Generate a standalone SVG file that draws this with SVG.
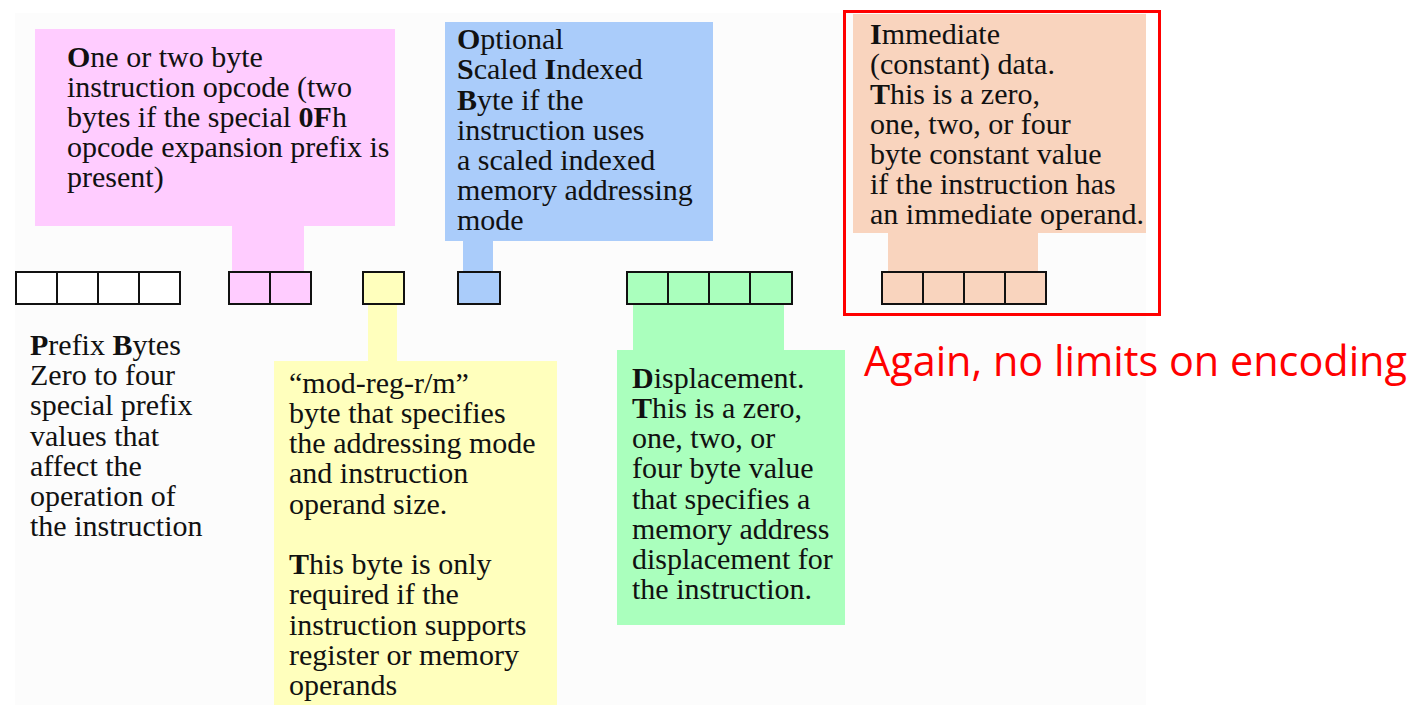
<svg xmlns="http://www.w3.org/2000/svg" width="1414" height="705" viewBox="0 0 1414 705">
<style>
.t{font-family:"Liberation Serif","Times New Roman",serif;font-size:30px;fill:#111;}
.b{font-weight:bold;}
.cell{stroke:#111;stroke-width:2;}
.pink{fill:#ffccff;}
.blue{fill:#aaccfa;}
.yel{fill:#ffffbd;}
.grn{fill:#aaffbd;}
.sal{fill:#f9d4be;}
.none{fill:#ffffff;}
.note{font-family:"Open Sans","Noto Sans",sans-serif;font-size:42px;fill:#ff0000;}
</style>
<rect x="0" y="0" width="1414" height="705" fill="#ffffff"/>
<rect x="15" y="13" width="1131" height="692" fill="#fcfcfc"/>

<g id="connectors">
<rect class="pink" x="232" y="224" width="72" height="49"/>
<rect class="blue" x="463" y="239" width="30" height="34"/>
<rect class="yel" x="368" y="303" width="29" height="60"/>
<rect class="grn" x="633" y="303" width="151" height="49"/>
<rect class="sal" x="888" y="231" width="150" height="42"/>
</g>

<g id="prefix">
<g class="cell none">
<rect x="16" y="272" width="41" height="32"/>
<rect x="57" y="272" width="41" height="32"/>
<rect x="98" y="272" width="41" height="32"/>
<rect x="139" y="272" width="41" height="32"/>
</g>
<text class="t" x="30" y="355"><tspan class="b">P</tspan>refix <tspan class="b">B</tspan>ytes</text>
<text class="t" x="30" y="385">Zero to four</text>
<text class="t" x="30" y="415">special prefix</text>
<text class="t" x="30" y="446">values that</text>
<text class="t" x="30" y="476">affect the</text>
<text class="t" x="30" y="506">operation of</text>
<text class="t" x="30" y="536">the instruction</text>
</g>

<g id="opcode">
<rect class="pink" x="35" y="29" width="360" height="197"/>
<text class="t" x="67" y="67"><tspan class="b">O</tspan>ne or two byte</text>
<text class="t" x="67" y="97">instruction opcode (two</text>
<text class="t" x="67" y="127">bytes if the special <tspan class="b">0F</tspan>h</text>
<text class="t" x="67" y="157">opcode expansion prefix is</text>
<text class="t" x="67" y="187">present)</text>
<g class="cell pink">
<rect x="229" y="272" width="41" height="32"/>
<rect x="270" y="272" width="41" height="32"/>
</g>
</g>

<g id="modrm">
<rect class="cell yel" x="363" y="272" width="41" height="32"/>
<rect class="yel" x="274" y="361" width="283" height="344"/>
<text class="t" x="289" y="393">“mod-reg-r/m”</text>
<text class="t" x="289" y="423">byte that specifies</text>
<text class="t" x="289" y="453">the addressing mode</text>
<text class="t" x="289" y="483">and instruction</text>
<text class="t" x="289" y="514">operand size.</text>
<text class="t" x="289" y="574"><tspan class="b">T</tspan>his byte is only</text>
<text class="t" x="289" y="604">required if the</text>
<text class="t" x="289" y="635">instruction supports</text>
<text class="t" x="289" y="665">register or memory</text>
<text class="t" x="289" y="695">operands</text>
</g>

<g id="sib">
<rect class="blue" x="445" y="22" width="268" height="219"/>
<text class="t" x="457" y="49"><tspan class="b">O</tspan>ptional</text>
<text class="t" x="457" y="79"><tspan class="b">S</tspan>caled <tspan class="b">I</tspan>ndexed</text>
<text class="t" x="457" y="110"><tspan class="b">B</tspan>yte if the</text>
<text class="t" x="457" y="140">instruction uses</text>
<text class="t" x="457" y="170">a scaled indexed</text>
<text class="t" x="457" y="200">memory addressing</text>
<text class="t" x="457" y="230">mode</text>
<rect class="cell blue" x="458" y="272" width="42" height="32"/>
</g>

<g id="displacement">
<g class="cell grn">
<rect x="627" y="272" width="41" height="32"/>
<rect x="668" y="272" width="41" height="32"/>
<rect x="709" y="272" width="41" height="32"/>
<rect x="750" y="272" width="42" height="32"/>
</g>
<rect class="grn" x="617" y="350" width="228" height="275"/>
<text class="t" x="632" y="388"><tspan class="b">D</tspan>isplacement.</text>
<text class="t" x="632" y="418"><tspan class="b">T</tspan>his is a zero,</text>
<text class="t" x="632" y="448">one, two, or</text>
<text class="t" x="632" y="478">four byte value</text>
<text class="t" x="632" y="509">that specifies a</text>
<text class="t" x="632" y="539">memory address</text>
<text class="t" x="632" y="569">displacement for</text>
<text class="t" x="632" y="599">the instruction.</text>
</g>

<g id="immediate">
<rect class="sal" x="853" y="14" width="293" height="219"/>
<text class="t" x="870" y="44"><tspan class="b">I</tspan>mmediate</text>
<text class="t" x="870" y="74">(constant) data.</text>
<text class="t" x="870" y="104"><tspan class="b">T</tspan>his is a zero,</text>
<text class="t" x="870" y="134">one, two, or four</text>
<text class="t" x="870" y="164">byte constant value</text>
<text class="t" x="870" y="194">if the instruction has</text>
<text class="t" x="870" y="224">an immediate operand.</text>
<g class="cell sal">
<rect x="882" y="272" width="41" height="32"/>
<rect x="923" y="272" width="41" height="32"/>
<rect x="964" y="272" width="41" height="32"/>
<rect x="1005" y="272" width="41" height="32"/>
</g>
</g>

<g id="highlight">
<rect x="844.5" y="11.5" width="315" height="303" fill="none" stroke="#ff0000" stroke-width="3"/>
<text class="note" x="864" y="376" textLength="543" lengthAdjust="spacingAndGlyphs">Again, no limits on encoding</text>
</g>
</svg>
